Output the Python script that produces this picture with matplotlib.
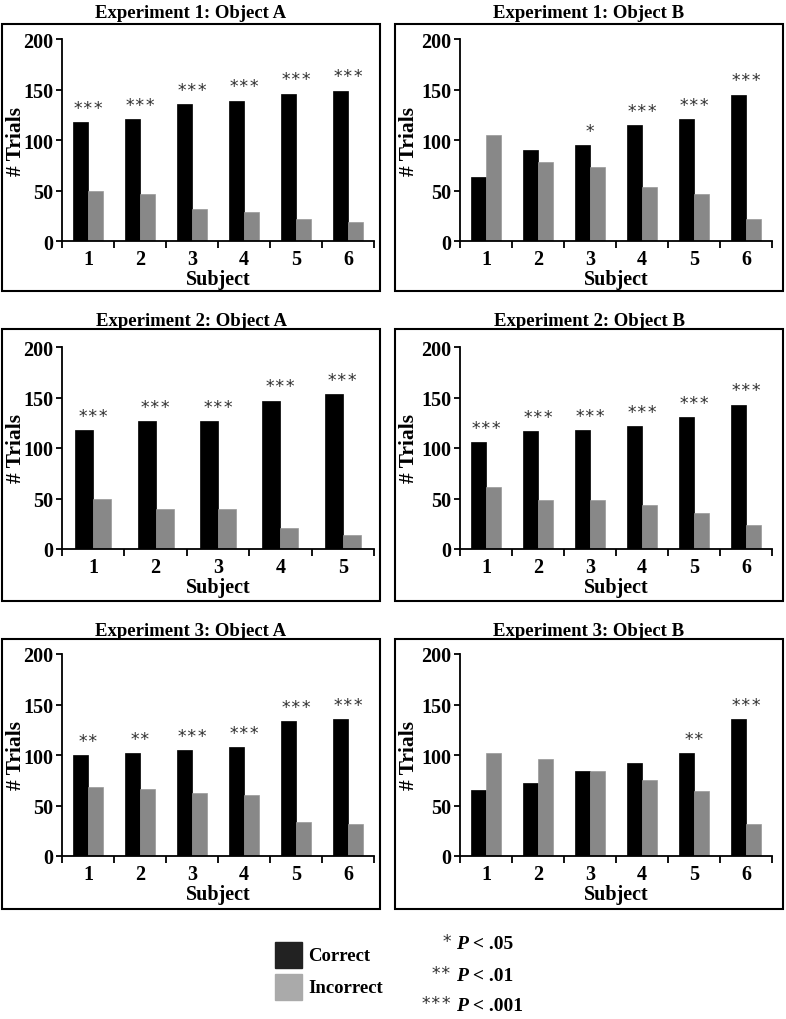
import numpy as np
import matplotlib.pyplot as plt
from matplotlib.patches import Rectangle
from matplotlib.text import Annotation

plt.rcParams['font.family'] = ['Liberation Serif', 'DejaVu Serif']

titles = ["Experiment 1: Object A", "Experiment 1: Object B",
          "Experiment 2: Object A", "Experiment 2: Object B",
          "Experiment 3: Object A", "Experiment 3: Object B"]

correct = [[118, 121, 136, 139, 146, 149],
           [63, 90, 95, 115, 121, 145],
           [118, 127, 127, 147, 153],
           [106, 117, 118, 122, 131, 143],
           [100, 102, 105, 108, 134, 136],
           [65, 72, 84, 92, 102, 136]]

incorrect = [[50, 47, 32, 29, 22, 19],
             [105, 78, 73, 53, 47, 22],
             [50, 40, 40, 21, 14],
             [61, 49, 49, 44, 36, 24],
             [68, 66, 62, 60, 34, 32],
             [102, 96, 84, 75, 64, 32]]

stars = [["***"] * 6,
         ["", "", "*", "***", "***", "***"],
         ["***"] * 5,
         ["***"] * 6,
         ["**", "**", "***", "***", "***", "***"],
         ["", "", "", "", "**", "***"]]

W, H = 786, 1020
fig = plt.figure(figsize=(W / 100, H / 100), dpi=100)

# pixel layout (left, top of plot area); frames around each panel
col_left = [62, 460]
col_frame = [(2, 380), (395, 783)]
row_top = [40, 348, 655]
row_frame = [(25, 292), (330, 602), (640, 910)]
row_title = [14, 321, 631]
aw, ah = 312, 202

for i in range(6):
    r, c = i // 2, i % 2
    ax = fig.add_axes([col_left[c] / W, 1 - (row_top[r] + ah) / H, aw / W, ah / H])
    n = len(correct[i])
    x = np.arange(1, n + 1)
    bw = 0.29
    ax.bar(x - bw / 2, correct[i], bw, color='black', edgecolor='black', linewidth=0.5)
    ax.bar(x + bw / 2, incorrect[i], bw, color='#888888', edgecolor='#999999', linewidth=0.5)
    for xi, v, s in zip(x, correct[i], stars[i]):
        if s:
            ax.text(xi, v + 14, s, ha='center', va='center', fontsize=12.5,
                    family='DejaVu Sans Mono', color='#333333', clip_on=False)
    ax.set_xlim(0.5, n + 0.5)
    ax.set_ylim(0, 200)
    ax.set_yticks([0, 50, 100, 150, 200])
    ax.set_xticks(x)
    ax.set_xticks(np.arange(0.5, n + 1), minor=True)
    ax.tick_params(axis='x', which='major', length=0, pad=6, labelsize=14.5)
    ax.tick_params(axis='x', which='minor', length=5, width=1.3, direction='out')
    ax.tick_params(axis='y', length=4, width=1.3, pad=2, labelsize=14.5)
    for lab in ax.get_xticklabels() + ax.get_yticklabels():
        lab.set_fontweight('bold')
    ax.spines['top'].set_visible(False)
    ax.spines['right'].set_visible(False)
    ax.spines['left'].set_linewidth(1.3)
    ax.spines['bottom'].set_linewidth(1.3)
    ax.set_xlabel("Subject", fontsize=14.5, fontweight='bold', labelpad=0)
    ax.set_ylabel("# Trials", fontsize=15.5, fontweight='bold')
    ax.yaxis.set_label_coords((col_frame[c][0] + 24 - col_left[c]) / aw, 0.5)

    fx0, fx1 = col_frame[c]
    fy0, fy1 = row_frame[r]
    fig.add_artist(Rectangle((fx0 / W, 1 - fy1 / H), (fx1 - fx0) / W, (fy1 - fy0) / H,
                             transform=fig.transFigure, fill=False,
                             edgecolor='black', linewidth=1.5))
    fig.text((fx0 + fx1) / 2 / W, 1 - row_title[r] / H, titles[i], ha='center',
             va='center', fontsize=13.5, fontweight='bold')

# legend
fig.add_artist(Rectangle((275 / W, 1 - 969 / H), 27 / W, 26 / H,
                         transform=fig.transFigure, color='#222222'))
fig.add_artist(Rectangle((275 / W, 1 - 1001 / H), 27 / W, 26 / H,
                         transform=fig.transFigure, color='#aaaaaa'))
fig.text(308 / W, 1 - 957 / H, "Correct", ha='left', va='center', fontsize=13.5, fontweight='bold')
fig.text(308 / W, 1 - 989 / H, "Incorrect", ha='left', va='center', fontsize=13.5, fontweight='bold')

sig_stars = ["*", "**", "***"]
sig_p = ["< .05", "< .01", "< .001"]
sig_y = [945, 977, 1007]
for s, p, y in zip(sig_stars, sig_p, sig_y):
    fig.text(452 / W, 1 - (y - 3) / H, s, ha='right', va='center', fontsize=12.5,
             family='DejaVu Sans Mono', color='#333333')
    t = fig.text(456 / W, 1 - y / H, "P", ha='left', va='center', fontsize=14,
                 fontweight='bold', fontstyle='italic')
    fig.add_artist(Annotation(" " + p, xy=(1, 0), xycoords=t, va='bottom', ha='left',
                              fontsize=14, fontweight='bold'))

plt.savefig('out.png', dpi=100)
